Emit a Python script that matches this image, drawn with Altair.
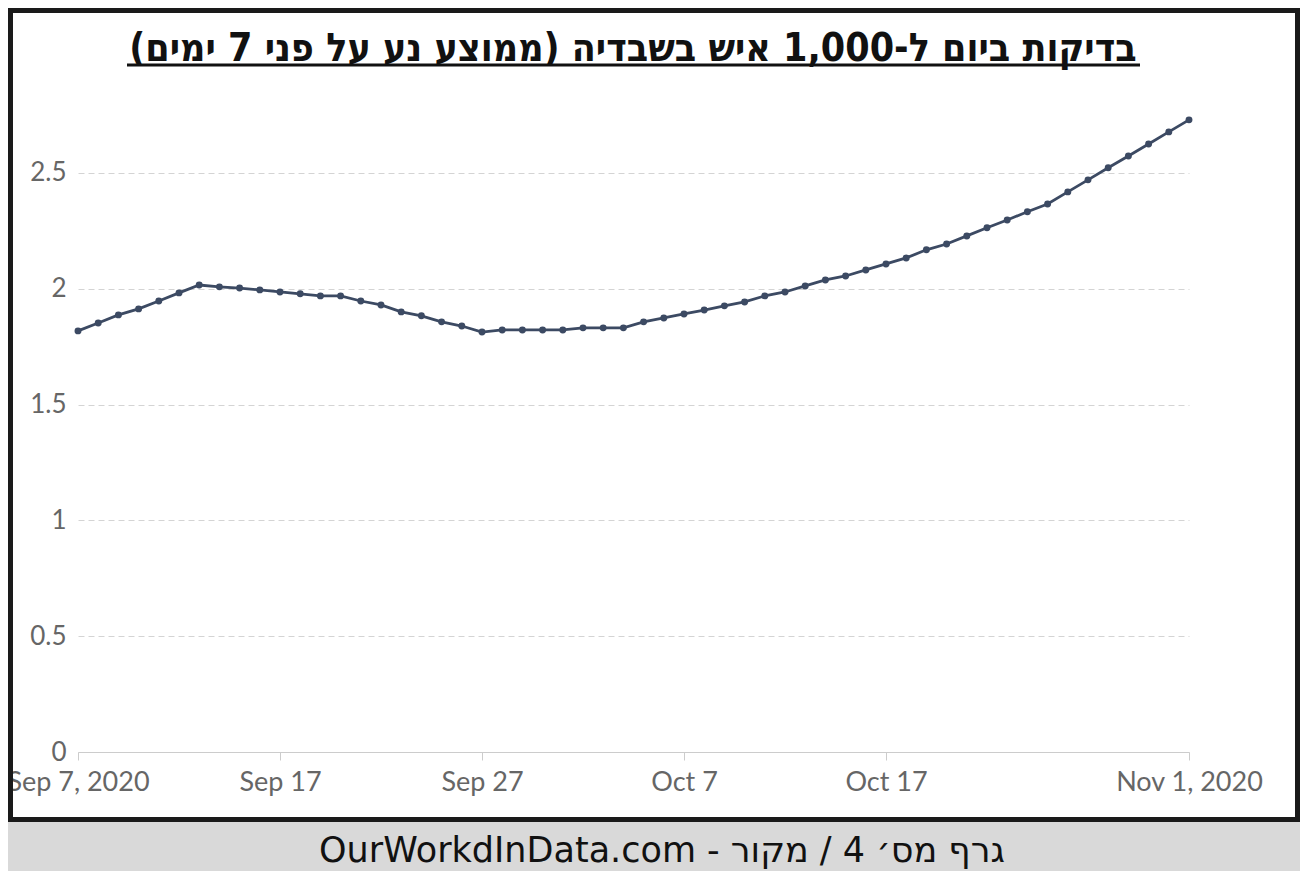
import altair as alt
import pandas as pd

# ---- data ----
start_date = "2020-09-07"
tests_per_1000 = [
    1.818, 1.852, 1.887, 1.913, 1.947, 1.982, 2.016, 2.008, 2.003, 1.995,
    1.986, 1.978, 1.969, 1.969, 1.947, 1.930, 1.900, 1.883, 1.857, 1.839,
    1.813, 1.822, 1.822, 1.822, 1.822, 1.831, 1.831, 1.831, 1.857, 1.874,
    1.891, 1.908, 1.926, 1.943, 1.969, 1.986, 2.012, 2.038, 2.055, 2.081,
    2.107, 2.133, 2.168, 2.193, 2.228, 2.263, 2.297, 2.332, 2.366, 2.418,
    2.470, 2.522, 2.573, 2.625, 2.677, 2.729,
]
dates = pd.date_range(start_date, periods=len(tests_per_1000), freq="D").strftime("%Y-%m-%d").tolist()
x_tick_dates = ["2020-09-07", "2020-09-17", "2020-09-27", "2020-10-07", "2020-10-17", "2020-11-01"]
y_ticks = [0, 0.5, 1, 1.5, 2, 2.5]

title_text = "\u200fבדיקות ביום ל-1,000 איש בשבדיה (ממוצע נע על פני 7 ימים)\u200f"
footer_text = "OurWorkdInData.com - גרף מס׳ 4 / מקור"

df = pd.DataFrame({"date": dates, "value": tests_per_1000})
one = pd.DataFrame({"k": [0]})

W, H = 1111, 637
LINE_COLOR = "#3c4a63"

tick_values = [
    alt.DateTime(year=int(d[:4]), month=int(d[5:7]), date=int(d[8:]), utc=True)
    for d in x_tick_dates
]

line = alt.Chart(df).mark_line(
    color=LINE_COLOR, strokeWidth=2.8,
    point=alt.OverlayMarkDef(color=LINE_COLOR, filled=True, size=48, opacity=1),
).encode(
    x=alt.X("date:T", scale=alt.Scale(type="utc", domain=[
        alt.DateTime(year=2020, month=9, date=7, utc=True),
        alt.DateTime(year=2020, month=11, date=1, utc=True)], nice=False),
        axis=alt.Axis(
            title=None, values=tick_values, grid=False,
            labelExpr="(month(datum.value) == 8 && date(datum.value) == 7) || (month(datum.value) == 10 && date(datum.value) == 1) ? utcFormat(datum.value, '%b %-d, %Y') : utcFormat(datum.value, '%b %-d')",
            labelFont="Lato", labelFontSize=27, labelColor="#666666",
            labelPadding=9, labelOverlap=False, labelBound=False, labelFlush=False,
            domainColor="#cccccc", domainWidth=1, tickColor="#cccccc", tickSize=8,
        )),
    y=alt.Y("value:Q", scale=alt.Scale(domain=[0, 2.75], nice=False, zero=True),
        axis=alt.Axis(
            title=None, values=y_ticks, format="~g", domain=False, ticks=False,
            grid=True, gridColor="#d4d4d4", gridDash=[6, 4], gridWidth=1,
            labelFont="Lato", labelFontSize=26, labelColor="#666666", labelPadding=12,
        )),
)

footer_bg = alt.Chart(one).mark_rect(color="#d9d9d9").encode(
    x=alt.value(-70), x2=alt.value(1222), y=alt.value(707), y2=alt.value(756)
)
border = alt.Chart(one).mark_rect(fillOpacity=0, stroke="#1a1a1a", strokeWidth=5).encode(
    x=alt.value(-67.5), x2=alt.value(1219.5), y=alt.value(-104.5), y2=alt.value(704.5)
)
title = alt.Chart(one).mark_text(
    font="DejaVu Sans Condensed", fontWeight="bold", fontSize=39, color="#111111",
    align="center", baseline="alphabetic",
).encode(x=alt.value(555), y=alt.value(-54), text=alt.value(title_text))
underline = alt.Chart(one).mark_rule(color="#111111", strokeWidth=3).encode(
    x=alt.value(49), x2=alt.value(1062), y=alt.value(-50)
)
footer = alt.Chart(one).mark_text(
    font="DejaVu Sans", fontSize=35, color="#111111",
    align="center", baseline="alphabetic",
).encode(x=alt.value(584), y=alt.value(747), text=alt.value(footer_text))

chart = alt.layer(footer_bg, line, border, title, underline, footer).properties(
    width=W, height=H,
    padding={"left": 70, "top": 107, "right": 111, "bottom": 119},
    autosize=alt.AutoSizeParams(type="none"),
    background="white",
).configure_view(stroke=None)

chart.save("out.html", embed_options={"renderer": "svg", "actions": False})
